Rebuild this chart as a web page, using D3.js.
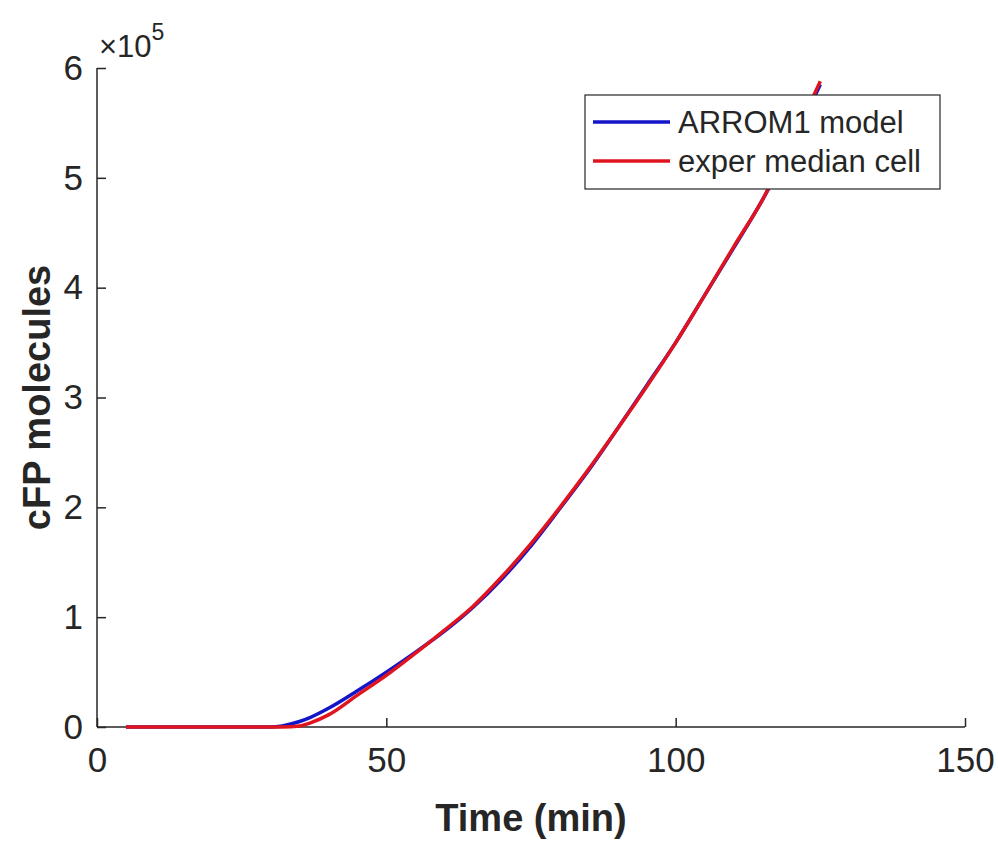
<!DOCTYPE html>
<html>
<head>
<meta charset="utf-8">
<script src="https://cdn.jsdelivr.net/npm/d3@7"></script>
<style>
  body { margin: 0; background: #fff; }
  svg { display: block; font-family: "Liberation Sans", Arial, sans-serif; }
</style>
</head>
<body>
<svg id="chart" width="998" height="842"></svg>
<script>
// time points (min)
let time = [5, 30, 32, 35, 37, 40, 45, 50, 55, 60, 65, 70, 75, 80, 85, 90, 95, 100, 105, 110, 115, 120, 125];
// cFP molecules, in units of 1e5
let modelVals = [0, 0, 0.01, 0.05, 0.09, 0.17, 0.33, 0.50, 0.68, 0.87, 1.09, 1.35, 1.65, 1.99, 2.34, 2.72, 3.11, 3.50, 3.93, 4.36, 4.80, 5.30, 5.85];
let experVals = [0, 0, 0, 0.01, 0.04, 0.11, 0.29, 0.47, 0.67, 0.88, 1.10, 1.37, 1.67, 2.00, 2.35, 2.72, 3.10, 3.50, 3.93, 4.37, 4.80, 5.32, 5.88];

let xTicks = [0, 50, 100, 150];
let yTicks = [0, 1, 2, 3, 4, 5, 6];

let seriesNames = ["ARROM1 model", "exper median cell"];
let seriesColors = ["#1414c8", "#e0141e"];

const svg = d3.select("#chart");
const margin = {left: 97, right: 33, top: 68, bottom: 115};
const W = 998, H = 842;

let x = d3.scaleLinear().domain([0, 150]).range([margin.left, W - margin.right]);
let y = d3.scaleLinear().domain([0, 6]).range([H - margin.bottom, margin.top]);

const axisColor = "#262626";

// x axis (ticks inward)
let gx = svg.append("g")
    .attr("transform", `translate(0,${y(0)})`)
    .call(d3.axisBottom(x).tickValues(xTicks).tickSize(-9).tickPadding(20).tickFormat(d3.format("d")));
gx.select(".domain").attr("stroke", axisColor).attr("stroke-width", 1.5).attr("d", `M${x(0)},0H${x(150)}`);
gx.selectAll(".tick line").attr("stroke", axisColor).attr("stroke-width", 1.5);
gx.selectAll(".tick text").attr("fill", axisColor).attr("font-size", 35).attr("font-family", "Liberation Sans, Arial, sans-serif");

// y axis
let gy = svg.append("g")
    .attr("transform", `translate(${x(0)},0)`)
    .call(d3.axisLeft(y).tickValues(yTicks).tickSize(-9).tickPadding(14).tickFormat(d3.format("d")));
gy.select(".domain").attr("stroke", axisColor).attr("stroke-width", 1.5).attr("d", `M0,${y(0)}V${y(6)}`);
gy.selectAll(".tick line").attr("stroke", axisColor).attr("stroke-width", 1.5);
gy.selectAll(".tick text").attr("fill", axisColor).attr("font-size", 35).attr("font-family", "Liberation Sans, Arial, sans-serif");

// exponent label
let expo = svg.append("text")
    .attr("x", 99).attr("y", 57)
    .attr("fill", axisColor)
    .attr("font-size", 31);
expo.append("tspan").text("\u00d710");
expo.append("tspan").attr("dy", -17).attr("font-size", 23).text("5");

// axis labels
svg.append("text")
    .attr("x", (x(0) + x(150)) / 2).attr("y", 831)
    .attr("text-anchor", "middle")
    .attr("font-size", 38).attr("font-weight", "bold")
    .attr("fill", axisColor)
    .text("Time (min)");

svg.append("text")
    .attr("transform", `translate(50,${(y(0) + y(6)) / 2}) rotate(-90)`)
    .attr("text-anchor", "middle")
    .attr("font-size", 38).attr("font-weight", "bold")
    .attr("fill", axisColor)
    .text("cFP molecules");

// lines
let line = d3.line().x(d => x(d[0])).y(d => y(d[1])).curve(d3.curveMonotoneX);
let series = [modelVals, experVals];
series.forEach((vals, i) => {
    svg.append("path")
        .datum(time.map((t, j) => [t, vals[j]]))
        .attr("fill", "none")
        .attr("stroke", seriesColors[i])
        .attr("stroke-width", 3.5)
        .attr("stroke-linejoin", "round")
        .attr("d", line);
});

// legend
let lg = svg.append("g").attr("transform", "translate(585,95)");
lg.append("rect")
    .attr("width", 355).attr("height", 94)
    .attr("fill", "#fff")
    .attr("stroke", axisColor).attr("stroke-width", 1.2);
seriesNames.forEach((name, i) => {
    let yy = 27 + i * 39;
    lg.append("line")
        .attr("x1", 8).attr("x2", 85).attr("y1", yy).attr("y2", yy)
        .attr("stroke", seriesColors[i]).attr("stroke-width", 3.5);
    lg.append("text")
        .attr("x", 93).attr("y", yy + 11)
        .attr("font-size", 31)
        .attr("fill", axisColor)
        .text(name);
});
</script>
</body>
</html>
